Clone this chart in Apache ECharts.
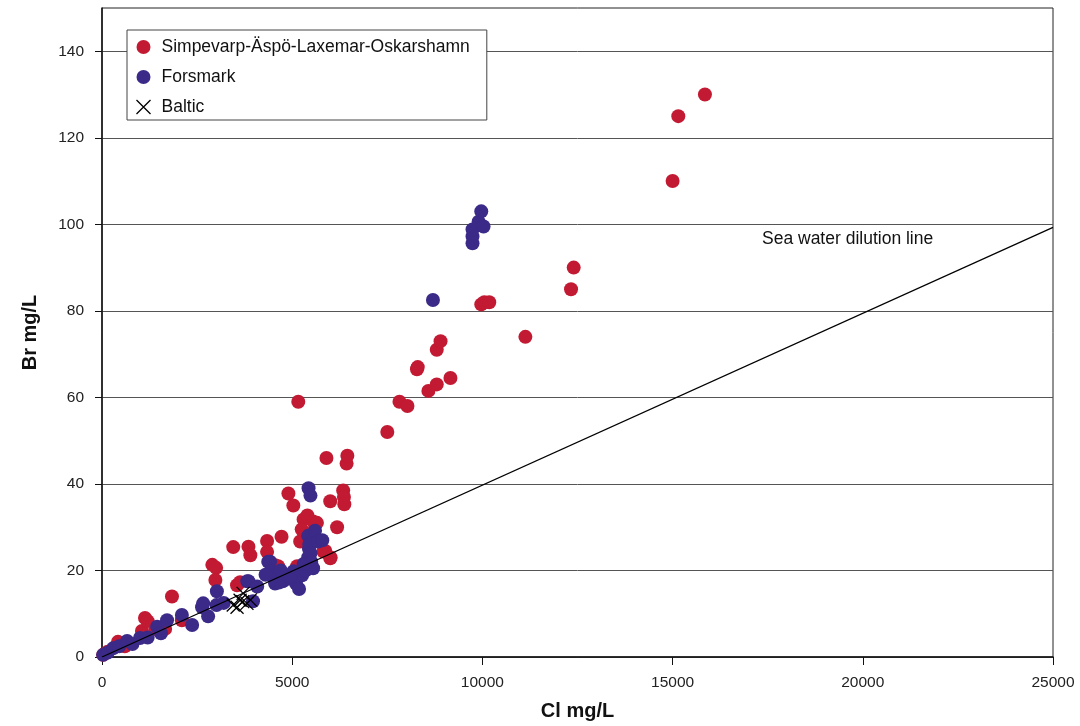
<!DOCTYPE html>
<html>
<head>
    <meta charset="utf-8"/>
    <title>Br - Cl</title>
    <style type="text/css">
        html, body { margin: 0; padding: 0; background: #fff; }
        #main { width: 1080px; height: 726px; }
    </style>
    <script type="text/javascript" src="https://cdn.jsdelivr.net/npm/echarts@6/dist/echarts.min.js"></script>
</head>
<body>
<div id="main"></div>
<script type="text/javascript">

    // Simpevarp-Äspö-Laxemar-Oskarshamn [Cl, Br]
    var simpevarp = [
        [30, 0.5], [150, 1.2], [420, 3.5], [600, 2.5], [1050, 6], [1130, 9], [1200, 8.3], [1400, 6.5],
        [1660, 6.5], [1840, 14], [2100, 8.5], [2900, 21.3], [3000, 20.6], [2980, 17.8], [3450, 25.4],
        [3550, 16.6], [3630, 17.3], [3850, 25.5], [3900, 23.5], [4340, 26.8], [4340, 24.3], [4550, 21.2],
        [4630, 21], [4720, 27.8], [4900, 37.8], [5030, 35], [5130, 21], [5160, 59], [5210, 26.7],
        [5300, 31.8], [5400, 32.7], [5250, 29.5], [5550, 31.3], [5650, 31], [5480, 28.5], [5820, 24.4],
        [5870, 24.5], [6000, 22.8], [6010, 23], [5900, 46], [6000, 36], [6180, 30], [6340, 38.5],
        [6360, 37], [6370, 35.3], [6430, 44.7], [6450, 46.5], [7500, 52], [7820, 59], [8030, 58],
        [8280, 66.5], [8300, 67], [8580, 61.5], [8800, 63], [8800, 71], [8900, 73], [9160, 64.5],
        [9970, 81.5], [10050, 82], [10180, 82], [11130, 74], [12330, 85], [12400, 90],
        [15000, 110], [15150, 125], [15850, 130]
    ];

    // Forsmark [Cl, Br]
    var forsmark = [
        [30, 0.5], [150, 1], [290, 2], [450, 2.5], [660, 3.7], [800, 3], [1000, 4.4], [1200, 4.5],
        [1450, 7], [1550, 5.5], [1710, 8.5], [2100, 9.7], [2370, 7.4], [2630, 11.5], [2660, 12.4],
        [2790, 9.4], [3010, 12], [3020, 15.2], [3200, 12.5], [3820, 17.5], [3850, 17.5], [3970, 12.9],
        [4080, 16.3], [4370, 22], [4420, 22], [4450, 19.8], [4500, 18.5], [4550, 17], [4600, 19.2],
        [4750, 17.5], [4850, 18], [5030, 19.8], [5100, 17], [5180, 15.7], [5260, 18.9], [5350, 20],
        [5400, 21], [5420, 23], [5440, 25], [5420, 28], [5450, 26], [5480, 24], [5500, 22],
        [5430, 39], [5480, 37.3], [5600, 29.2], [5680, 26.7], [5790, 27], [5550, 20.5],
        [4650, 17.2], [4950, 18.5], [5300, 21.5], [4300, 19], [4700, 20],
        [8700, 82.5], [9740, 95.6], [9740, 97.2], [9740, 98.8], [9900, 100.6], [9970, 103], [10030, 99.5]
    ];

    // Baltic [Cl, Br]
    var baltic = [
        [3450, 12], [3550, 11.5], [3630, 13.1], [3710, 14.7], [3810, 12.4], [3700, 12.8], [3900, 13.2]
    ];

    // sea water dilution line
    var dilutionLine = [[0, 0], [25000, 99.3]];

    var yTicks = [0, 20, 40, 60, 80, 100, 120, 140];

    var fontFam = '"Liberation Sans", Arial, sans-serif';
    var crossPath = 'path://M0,0L10,10M10,0L0,10';

    var myChart = echarts.init(document.getElementById('main'));

    var option = {
        animation: false,
        backgroundColor: '#fff',
        textStyle: { fontFamily: fontFam },
        grid: {
            left: 102, right: 27, top: 8, bottom: 67,
            show: true, borderColor: '#222', borderWidth: 1
        },
        legend: {
            orient: 'vertical',
            left: 127, top: 30,
            padding: [7, 17, 3, 7],
            itemGap: 10,
            itemWidth: 26, itemHeight: 14,
            backgroundColor: '#fff',
            borderColor: '#444', borderWidth: 1,
            textStyle: { fontSize: 17.5, color: '#111', fontFamily: fontFam, lineHeight: 20 },
            data: [
                { name: 'Simpevarp-Äspö-Laxemar-Oskarshamn', icon: 'circle' },
                { name: 'Forsmark', icon: 'circle' },
                { name: 'Baltic', icon: crossPath, itemStyle: { color: 'none', borderColor: '#000', borderWidth: 1.3 } }
            ]
        },
        xAxis: {
            type: 'value',
            min: 0, max: 25000, interval: 5000,
            name: 'Cl mg/L',
            nameLocation: 'middle',
            nameGap: 44,
            nameTextStyle: { fontSize: 20, fontWeight: 'bold', color: '#111', fontFamily: fontFam },
            axisLine: { lineStyle: { color: '#111', width: 1.5 } },
            axisTick: { show: true, inside: false, length: 8, lineStyle: { color: '#111' } },
            axisLabel: { fontSize: 15.5, color: '#222', margin: 18, formatter: function (v) { return String(v); } },
            splitLine: { show: false }
        },
        yAxis: {
            type: 'value',
            min: 0, max: 150, interval: 20,
            name: 'Br mg/L',
            nameLocation: 'middle',
            nameGap: 62,
            nameTextStyle: { fontSize: 20, fontWeight: 'bold', color: '#111', fontFamily: fontFam },
            axisLine: { lineStyle: { color: '#111', width: 1.5 } },
            axisTick: { show: true, inside: false, length: 7, lineStyle: { color: '#111' }, customValues: yTicks },
            axisLabel: { fontSize: 15.5, color: '#222', margin: 18, customValues: yTicks },
            splitLine: { show: true, lineStyle: { color: '#555', width: 1 } }
        },
        graphic: [{
            type: 'text',
            left: 762, top: 230,
            style: { text: 'Sea water dilution line', fontSize: 17.5, fill: '#111', fontFamily: fontFam }
        }],
        series: [
            {
                name: 'Simpevarp-Äspö-Laxemar-Oskarshamn',
                type: 'scatter',
                symbol: 'circle',
                symbolSize: 14,
                itemStyle: { color: '#c21a32', opacity: 1 },
                data: simpevarp,
                z: 2
            },
            {
                name: 'Forsmark',
                type: 'scatter',
                symbol: 'circle',
                symbolSize: 14,
                itemStyle: { color: '#3b2a87', opacity: 1 },
                data: forsmark,
                z: 3
            },
            {
                name: 'dilution',
                type: 'line',
                data: dilutionLine,
                symbol: 'none',
                lineStyle: { color: '#000', width: 1.2 },
                silent: true,
                z: 4
            },
            {
                name: 'Baltic',
                type: 'scatter',
                symbol: crossPath,
                symbolSize: 13,
                itemStyle: { color: 'none', borderColor: '#000', borderWidth: 1.3, opacity: 1 },
                data: baltic,
                z: 5
            }
        ]
    };

    myChart.setOption(option);

</script>
</body>
</html>
